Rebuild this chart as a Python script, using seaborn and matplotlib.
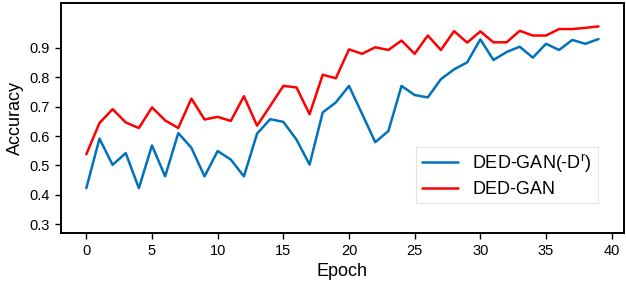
import numpy as np
import pandas as pd
import matplotlib
matplotlib.use('Agg')
import matplotlib.pyplot as plt
import seaborn as sns

sns.set_style('ticks')
plt.rcParams['font.family'] = ['Liberation Sans', 'DejaVu Sans']
plt.rcParams['mathtext.fontset'] = 'custom'
plt.rcParams['mathtext.rm'] = 'Liberation Sans'
plt.rcParams['text.color'] = 'black'
plt.rcParams['axes.labelcolor'] = 'black'
plt.rcParams['xtick.color'] = 'black'
plt.rcParams['ytick.color'] = 'black'

# accuracy per epoch
epochs = list(range(40))
acc_no_dr = [0.423, 0.591, 0.502, 0.542, 0.423, 0.568, 0.463, 0.610, 0.560, 0.463,
             0.549, 0.520, 0.463, 0.608, 0.657, 0.648, 0.588, 0.503, 0.680, 0.714,
             0.770, 0.675, 0.579, 0.617, 0.770, 0.739, 0.731, 0.793, 0.826, 0.850,
             0.928, 0.858, 0.885, 0.903, 0.866, 0.913, 0.892, 0.926, 0.913, 0.929]
acc_full = [0.538, 0.644, 0.691, 0.646, 0.627, 0.697, 0.653, 0.627, 0.727, 0.656,
            0.665, 0.651, 0.735, 0.635, 0.702, 0.770, 0.765, 0.674, 0.808, 0.796,
            0.894, 0.879, 0.901, 0.892, 0.924, 0.879, 0.941, 0.892, 0.956, 0.917,
            0.955, 0.918, 0.918, 0.957, 0.941, 0.941, 0.963, 0.963, 0.967, 0.972]

labels = ['DED-GAN(-D$^{\\mathrm{r}}$)', 'DED-GAN']
colors = ['#0072BD', '#FF0000']

df = pd.DataFrame({
    'Epoch': epochs * 2,
    'Accuracy': acc_no_dr + acc_full,
    'model': [labels[0]] * 40 + [labels[1]] * 40,
})

fig = plt.figure(figsize=(6.26, 2.82), dpi=100)
ax = fig.add_axes([0.097, 0.175, 0.9, 0.815])

sns.lineplot(data=df, x='Epoch', y='Accuracy', hue='model', palette=colors,
             linewidth=1.8, ax=ax)

ax.set_ylim(0.272, 1.052)
ax.set_yticks([0.3, 0.4, 0.5, 0.6, 0.7, 0.8, 0.9])
ax.set_xticks([0, 5, 10, 15, 20, 25, 30, 35, 40])
ax.set_xlim(-1.95, 40.95)

for s in ax.spines.values():
    s.set_visible(True)
    s.set_linewidth(1.4)
    s.set_color('black')
ax.tick_params(axis='both', labelsize=10.5, length=4, width=1, direction='out', pad=4)
ax.set_xlabel('Epoch', fontsize=13, labelpad=4)
ax.set_ylabel('Accuracy', fontsize=13, labelpad=4)

leg = ax.legend(loc='lower right', bbox_to_anchor=(0.953, 0.127), borderaxespad=0,
                fontsize=13, fancybox=False, frameon=True, handlelength=2.0,
                handletextpad=0.8, labelspacing=0.35, borderpad=0.3, title=None)
leg.get_frame().set_edgecolor('#dddddd')
leg.get_frame().set_linewidth(0.8)

fig.savefig('out.png', dpi=100)
